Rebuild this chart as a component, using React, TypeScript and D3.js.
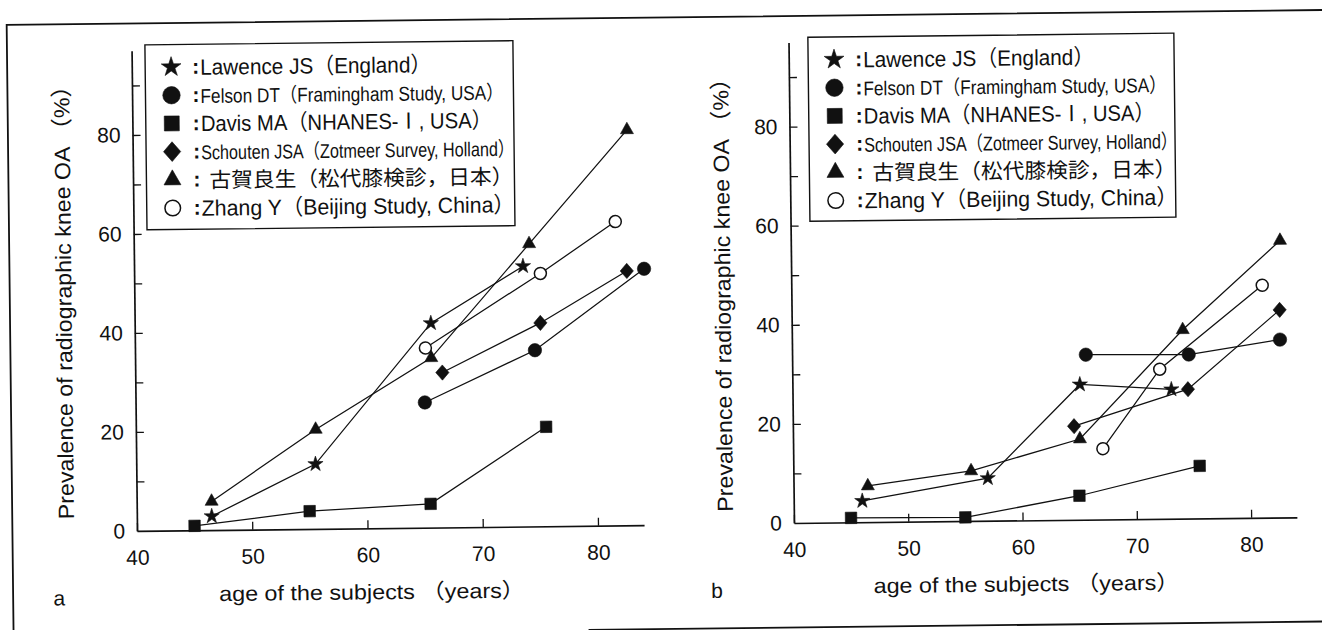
import { useEffect, useRef } from 'react';
import * as d3 from 'd3';

const FONT = "'Liberation Sans', Arial, Helvetica, 'Noto Sans CJK JP', sans-serif";
const CJK = "'Noto Sans CJK JP', 'Liberation Sans', sans-serif";

// legend
const legendLabels = [
  'Lawence JS（England）',
  'Felson DT（Framingham Study, USA）',
  'Davis MA（NHANES-Ⅰ, USA）',
  'Schouten JSA（Zotmeer Survey, Holland）',
  '古賀良生（松代膝検診，日本）',
  'Zhang Y（Beijing Study, China）',
];
const legendShapes = ['star', 'circle', 'square', 'diamond', 'triangle', 'open'];
const legendTextWidths = [231, 303, 291, 313, 304, 313];

// axes
const xTickValues = [40, 50, 60, 70, 80];
const yTickValues = [10, 20, 30, 40, 50, 60, 70, 80, 90];
const yLabelValues = [0, 20, 40, 60, 80];
const xTitle = 'age of the subjects （years）';
const yTitle = 'Prevalence of radiographic knee OA （%）';

// panel a
const aLawenceAge = [46.5, 55.55, 65.7, 73.75];
const aLawenceVal = [2.8, 13.1, 41.3, 52.6];
const aFelsonAge = [65.1, 74.7, 84.25];
const aFelsonVal = [25.3, 35.6, 51.8];
const aDavisAge = [45, 55, 65.5, 75.6];
const aDavisVal = [0.9, 3.6, 4.8, 20.1];
const aSchoutenAge = [66.65, 75.2, 82.75];
const aSchoutenVal = [31.3, 41.1, 51.4];
const aKogaAge = [46.5, 55.6, 65.7, 74.3, 82.9];
const aKogaVal = [5.8, 20.1, 34.3, 57.1, 79.9];
const aZhangAge = [65.2, 75.25, 81.8];
const aZhangVal = [36.3, 51.1, 61.4];

// panel b
const bLawenceAge = [46, 57, 65.15, 73.15];
const bLawenceVal = [4.3, 8.6, 27.3, 26.1];
const bFelsonAge = [65.7, 74.7, 82.7];
const bFelsonVal = [33.3, 33.1, 35.9];
const bDavisAge = [45, 55, 65, 75.55];
const bDavisVal = [0.9, 0.75, 4.85, 10.6];
const bSchoutenAge = [64.6, 74.6, 82.7];
const bSchoutenVal = [18.9, 26.1, 41.9];
const bKogaAge = [46.5, 55.55, 65.1, 74.2, 82.8];
const bKogaVal = [7.3, 10.1, 16.3, 38.1, 55.9];
const bZhangAge = [67.1, 72.15, 81.2];
const bZhangVal = [14.3, 30.2, 46.9];

const seriesA = [
  { shape: 'star', ages: aLawenceAge, vals: aLawenceVal },
  { shape: 'circle', ages: aFelsonAge, vals: aFelsonVal },
  { shape: 'square', ages: aDavisAge, vals: aDavisVal },
  { shape: 'diamond', ages: aSchoutenAge, vals: aSchoutenVal },
  { shape: 'triangle', ages: aKogaAge, vals: aKogaVal },
  { shape: 'open', ages: aZhangAge, vals: aZhangVal },
];
const seriesB = [
  { shape: 'star', ages: bLawenceAge, vals: bLawenceVal },
  { shape: 'circle', ages: bFelsonAge, vals: bFelsonVal },
  { shape: 'square', ages: bDavisAge, vals: bDavisVal },
  { shape: 'diamond', ages: bSchoutenAge, vals: bSchoutenVal },
  { shape: 'triangle', ages: bKogaAge, vals: bKogaVal },
  { shape: 'open', ages: bZhangAge, vals: bZhangVal },
];

// marker outline for a shape, s = scale (1 in plot, bigger in legend)
const markerPath = (shape: string, s: number) => {
  if (shape === 'star') {
    const R = 8 * s;
    return d3.symbol().type(d3.symbolStar).size((R * R) / 0.8908130915292852)() as string;
  }
  if (shape === 'square') return d3.symbol().type(d3.symbolSquare).size((11.5 * s) ** 2)() as string;
  if (shape === 'diamond') {
    const w = 6.6 * s, h = 7.6 * s;
    return `M0,${-h}L${w},0L0,${h}L${-w},0Z`;
  }
  if (shape === 'triangle') {
    const w = 13 * s, h = 11.5 * s;
    return `M0,${(-h * 2) / 3}L${w / 2},${h / 3}L${-w / 2},${h / 3}Z`;
  }
  const r = (shape === 'open' ? 6 : 6.7) * s;
  return d3.symbol().type(d3.symbolCircle).size(Math.PI * r * r)() as string;
};

const addMarker = (g: any, shape: string, cx: number, cy: number, s: number) => {
  g.append('path')
    .attr('d', markerPath(shape, s))
    .attr('transform', `translate(${cx},${cy})`)
    .attr('fill', shape === 'open' ? '#fff' : '#111')
    .attr('stroke', '#111')
    .attr('stroke-width', shape === 'open' ? 1.5 : 0.6);
};

const drawPanel = (root: any, cfg: any, series: any[]) => {
  const g = root.append('g');
  const xScale = d3.scaleLinear().domain([40, 84]).range([cfg.x0, cfg.x0 + 44 * cfg.kx]);
  const yScale = d3.scaleLinear().domain([0, 97]).range([cfg.y0, cfg.y0 - 97 * cfg.ky]);

  // y axis, ticks inward
  const yAxis = d3.axisLeft(yScale).tickValues(yTickValues).tickSizeInner(-8).tickSizeOuter(0).tickFormat(() => '');
  const yAxisG = g.append('g').attr('transform', `translate(${cfg.x0},0)`).call(yAxis);
  const yLab = d3.axisLeft(yScale).tickValues(yLabelValues).tickSize(0).tickPadding(12);
  const yLabG = g.append('g').attr('transform', `translate(${cfg.x0},0)`).call(yLab);
  yLabG.select('.domain').remove();

  const xAxis = d3.axisBottom(xScale).tickValues(xTickValues).tickSizeInner(-8).tickSizeOuter(0).tickPadding(19);
  const xAxisG = g.append('g').attr('transform', `translate(0,${cfg.y0})`).call(xAxis);

  [yAxisG, yLabG, xAxisG].forEach((a) => {
    a.attr('font-family', FONT).attr('font-size', 21);
    a.selectAll('text').attr('fill', '#111');
    a.selectAll('line').attr('stroke', '#111').attr('stroke-width', 1.3);
    a.selectAll('.domain').attr('stroke', '#111').attr('stroke-width', 1.7);
  });

  // axis titles
  g.append('text')
    .text(yTitle)
    .attr('transform', `translate(${cfg.yTitleX},${cfg.yTitleY}) rotate(-90)`)
    .attr('text-anchor', 'middle')
    .attr('font-family', FONT)
    .attr('font-size', 22)
    .attr('fill', '#111')
    .attr('textLength', 445)
    .attr('lengthAdjust', 'spacingAndGlyphs');
  g.append('text')
    .text(xTitle)
    .attr('x', cfg.xTitleX)
    .attr('y', cfg.y0 + 71)
    .attr('text-anchor', 'middle')
    .attr('font-family', FONT)
    .attr('font-size', 21)
    .attr('fill', '#111')
    .attr('textLength', 306)
    .attr('lengthAdjust', 'spacingAndGlyphs');
  g.append('text')
    .text(cfg.letter)
    .attr('x', cfg.letterX)
    .attr('y', 598.5)
    .attr('text-anchor', 'middle')
    .attr('font-family', FONT)
    .attr('font-size', 21)
    .attr('fill', '#111');

  // lines then markers
  const line = d3.line<number[]>().x((d) => xScale(d[0])).y((d) => yScale(d[1]));
  series.forEach((s) => {
    const pts = s.ages.map((a: number, i: number) => [a, s.vals[i]]);
    g.append('path').attr('d', line(pts)).attr('fill', 'none').attr('stroke', '#111').attr('stroke-width', 1.25);
  });
  series.forEach((s) => {
    s.ages.forEach((a: number, i: number) => addMarker(g, s.shape, xScale(a), yScale(s.vals[i]), 1));
  });

  // legend
  const lg = g.append('g');
  lg.append('rect')
    .attr('x', cfg.lx)
    .attr('y', cfg.ly)
    .attr('width', cfg.lw)
    .attr('height', cfg.lh)
    .attr('fill', '#fff')
    .attr('stroke', '#111')
    .attr('stroke-width', 1.4);
  legendLabels.forEach((label, i) => {
    const cy = cfg.ly + 22.5 + i * 28.2;
    addMarker(lg, legendShapes[i], cfg.lx + 26, cy, 1.3);
    lg.append('text')
      .text(':')
      .attr('x', cfg.lx + 47)
      .attr('y', cy + 7)
      .attr('font-family', FONT)
      .attr('font-size', 21)
      .attr('font-weight', 'bold')
      .attr('fill', '#111');
    const cjk = i === 4;
    lg.append('text')
      .text(label)
      .attr('x', cfg.lx + (cjk ? 63 : 55))
      .attr('y', cy + 8)
      .attr('font-family', cjk ? CJK : FONT)
      .attr('font-size', i === 1 || i === 3 ? 20 : cjk ? 21 : 22)
      .attr('fill', '#111')
      .attr('textLength', legendTextWidths[i])
      .attr('lengthAdjust', 'spacingAndGlyphs');
  });
};

const App = () => {
  const ref = useRef<SVGSVGElement>(null);
  useEffect(() => {
    const svg = d3.select(ref.current);
    svg.selectAll('*').remove();
    // the scan is tilted a little counter-clockwise
    const root = svg.append('g').attr('transform', 'rotate(-0.65 661 315)');

    // page frame
    root.append('path')
      .attr('d', 'M10,645L10,17.5L1345,17.5')
      .attr('fill', 'none')
      .attr('stroke', '#111')
      .attr('stroke-width', 1.8);
    root.append('line')
      .attr('x1', 585).attr('y1', 629).attr('x2', 1345).attr('y2', 629)
      .attr('stroke', '#111')
      .attr('stroke-width', 1.8);

    drawPanel(root, {
      x0: 134.6, y0: 525, kx: 11.525, ky: 4.95,
      yTitleX: 71.7, yTitleY: 290, xTitleX: 369,
      letter: 'a', letterX: 56,
      lx: 148, ly: 39, lw: 368, lh: 185,
    }, seriesA);
    drawPanel(root, {
      x0: 791.6, y0: 524.5, kx: 11.43, ky: 4.955,
      yTitleX: 730.7, yTitleY: 290, xTitleX: 1023.5,
      letter: 'b', letterX: 714,
      lx: 811, ly: 39, lw: 366, lh: 184,
    }, seriesB);
  }, []);

  return (
    <div style={{ position: 'absolute', left: 0, top: 0 }}>
      <svg ref={ref} width={1322} height={630} style={{ display: 'block', background: '#fff' }} />
    </div>
  );
};

export default App;
